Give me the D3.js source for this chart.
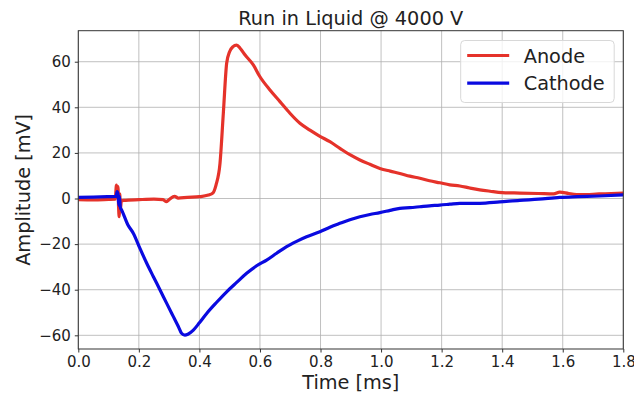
<!DOCTYPE html>
<html>
<head>
<meta charset="utf-8">
<script src="https://cdn.jsdelivr.net/npm/d3@7"></script>
<style>
  body { margin: 0; background: #fff; }
  svg { display: block; font-family: "DejaVu Sans", sans-serif; }
  .grid line { stroke: #b0b0b0; stroke-width: 0.8; }
  .axis path, .axis line { stroke: #333; }
  .axis text { fill: #222; font-size: 15px; font-family: "DejaVu Sans", sans-serif; }
</style>
</head>
<body>
<div id="chart"></div>
<script>
const anodeTime = [0.0, 0.05, 0.10, 0.122, 0.126, 0.128, 0.131, 0.133, 0.135, 0.137, 0.139, 0.142, 0.15, 0.2, 0.25, 0.28, 0.29, 0.30, 0.318, 0.33, 0.36, 0.40, 0.43, 0.445, 0.455, 0.468, 0.479, 0.490, 0.500, 0.510, 0.523, 0.535, 0.551, 0.578, 0.600, 0.633, 0.666, 0.699, 0.732, 0.765, 0.798, 0.831, 0.864, 0.897, 0.930, 0.963, 0.996, 1.03, 1.062, 1.095, 1.128, 1.16, 1.194, 1.227, 1.26, 1.293, 1.326, 1.36, 1.40, 1.458, 1.52, 1.57, 1.59, 1.62, 1.66, 1.72, 1.76, 1.8];
const anodeMv = [-0.5, -0.6, -0.4, -0.3, 5.9, 3.0, 5.2, -3.6, -8.0, 2.0, -5.0, -1.0, -0.8, -0.5, -0.3, -0.5, -1.4, -0.5, 1.0, 0.2, 0.5, 0.8, 1.5, 2.5, 6.0, 15.4, 37.4, 59.3, 64.5, 66.5, 67.3, 65.8, 62.9, 58.6, 53.4, 47.6, 42.5, 37.4, 33.0, 30.0, 27.3, 24.9, 22.0, 19.2, 16.9, 15.0, 13.2, 12.0, 11.0, 9.8, 8.9, 7.8, 6.9, 6.0, 5.5, 4.6, 3.8, 3.2, 2.6, 2.4, 2.2, 2.0, 2.8, 2.2, 1.7, 2.0, 2.2, 2.4];

const cathodeTime = [0.0, 0.05, 0.10, 0.125, 0.128, 0.131, 0.134, 0.136, 0.139, 0.143, 0.164, 0.182, 0.204, 0.226, 0.248, 0.270, 0.292, 0.314, 0.330, 0.341, 0.352, 0.362, 0.380, 0.400, 0.424, 0.457, 0.490, 0.523, 0.556, 0.589, 0.622, 0.655, 0.688, 0.721, 0.754, 0.798, 0.831, 0.864, 0.897, 0.930, 0.963, 0.996, 1.03, 1.062, 1.095, 1.128, 1.16, 1.194, 1.227, 1.26, 1.326, 1.392, 1.458, 1.52, 1.59, 1.65, 1.72, 1.8];
const cathodeMv = [0.5, 0.6, 0.8, 0.9, 3.0, 2.0, -3.0, 1.0, -4.0, -5.0, -11.6, -15.3, -22.0, -28.4, -34.3, -40.1, -46.0, -51.8, -56.0, -59.1, -59.9, -59.5, -57.7, -54.5, -50.4, -45.5, -40.9, -36.8, -32.8, -29.5, -27.0, -24.0, -21.1, -18.8, -16.8, -14.6, -12.6, -10.9, -9.3, -8.0, -7.0, -6.2, -5.2, -4.3, -4.0, -3.6, -3.2, -2.9, -2.5, -2.1, -2.1, -1.5, -0.8, -0.3, 0.5, 0.8, 1.1, 1.6];

const xTicks = [0, 0.2, 0.4, 0.6, 0.8, 1.0, 1.2, 1.4, 1.6, 1.8];
const yTicks = [-60, -40, -20, 0, 20, 40, 60];
const seriesNames = ['Anode', 'Cathode'];
const seriesColors = ['#e5322a', '#0a0ae0'];

const W = 634, H = 395;
const margin = { top: 30.7, right: 10.7, bottom: 46, left: 78.3 };
const width = W - margin.left - margin.right;
const height = H - margin.top - margin.bottom;

const svg = d3.select('#chart').append('svg')
  .attr('width', W)
  .attr('height', H);

const x = d3.scaleLinear().domain([0, 1.8]).range([0, width]);
const y = d3.scaleLinear().domain([-66, 73.6]).range([height, 0]);

const g = svg.append('g').attr('transform', `translate(${margin.left},${margin.top})`);

// grid
g.append('g').attr('class', 'grid')
  .selectAll('line').data(xTicks).join('line')
  .attr('x1', d => x(d)).attr('x2', d => x(d))
  .attr('y1', 0).attr('y2', height);
g.append('g').attr('class', 'grid')
  .selectAll('line').data(yTicks).join('line')
  .attr('x1', 0).attr('x2', width)
  .attr('y1', d => y(d)).attr('y2', d => y(d));

// clip
svg.append('defs').append('clipPath').attr('id', 'clip')
  .append('rect').attr('width', width).attr('height', height);

const line = d3.line().x(d => x(d[0])).y(d => y(d[1])).curve(d3.curveMonotoneX);
const series = [
  d3.zip(anodeTime, anodeMv),
  d3.zip(cathodeTime, cathodeMv)
];

g.append('g').attr('clip-path', 'url(#clip)')
  .selectAll('path').data(series).join('path')
  .attr('d', line)
  .attr('fill', 'none')
  .attr('stroke', (d, i) => seriesColors[i])
  .attr('stroke-width', 3.2)
  .attr('stroke-linejoin', 'round')
  .attr('stroke-linecap', 'round');

// axes
const xAxis = g.append('g').attr('class', 'axis')
  .attr('transform', `translate(0,${height})`)
  .call(d3.axisBottom(x).tickValues(xTicks).tickFormat(d3.format('.1f')).tickSizeOuter(0).tickSize(3.5).tickPadding(4));
const yAxis = g.append('g').attr('class', 'axis')
  .call(d3.axisLeft(y).tickValues(yTicks).tickFormat(d => d < 0 ? '\u2212' + Math.abs(d) : d).tickSizeOuter(0).tickSize(3.5).tickPadding(4));
xAxis.select('.domain').remove();
yAxis.select('.domain').remove();

// frame
g.append('rect')
  .attr('width', width).attr('height', height)
  .attr('fill', 'none').attr('stroke', '#333').attr('stroke-width', 1);

// title & labels
svg.append('text')
  .attr('x', margin.left + width / 2).attr('y', 25)
  .attr('text-anchor', 'middle')
  .attr('font-size', 19.3).attr('fill', '#222')
  .text('Run in Liquid @ 4000 V');
svg.append('text')
  .attr('x', margin.left + width / 2).attr('y', 389)
  .attr('text-anchor', 'middle')
  .attr('font-size', 19.3).attr('fill', '#222')
  .text('Time [ms]');
svg.append('text')
  .attr('transform', `translate(29.5,${margin.top + height / 2}) rotate(-90)`)
  .attr('text-anchor', 'middle')
  .attr('font-size', 19.3).attr('fill', '#222')
  .text('Amplitude [mV]');

// legend
const legend = svg.append('g').attr('transform', 'translate(460.7,40.5)');
legend.append('rect')
  .attr('width', 153.5).attr('height', 62)
  .attr('rx', 4)
  .attr('fill', 'rgba(255,255,255,0.8)')
  .attr('stroke', '#d8d8d8');
const items = legend.selectAll('g.item').data(seriesNames).join('g')
  .attr('transform', (d, i) => `translate(0,${15 + i * 27.7})`);
items.append('line')
  .attr('x1', 6.5).attr('x2', 48.5)
  .attr('stroke', (d, i) => seriesColors[i])
  .attr('stroke-width', 3.2);
items.append('text')
  .attr('x', 63).attr('y', 7)
  .attr('font-size', 19.3).attr('fill', '#222')
  .text(d => d);
</script>
</body>
</html>
